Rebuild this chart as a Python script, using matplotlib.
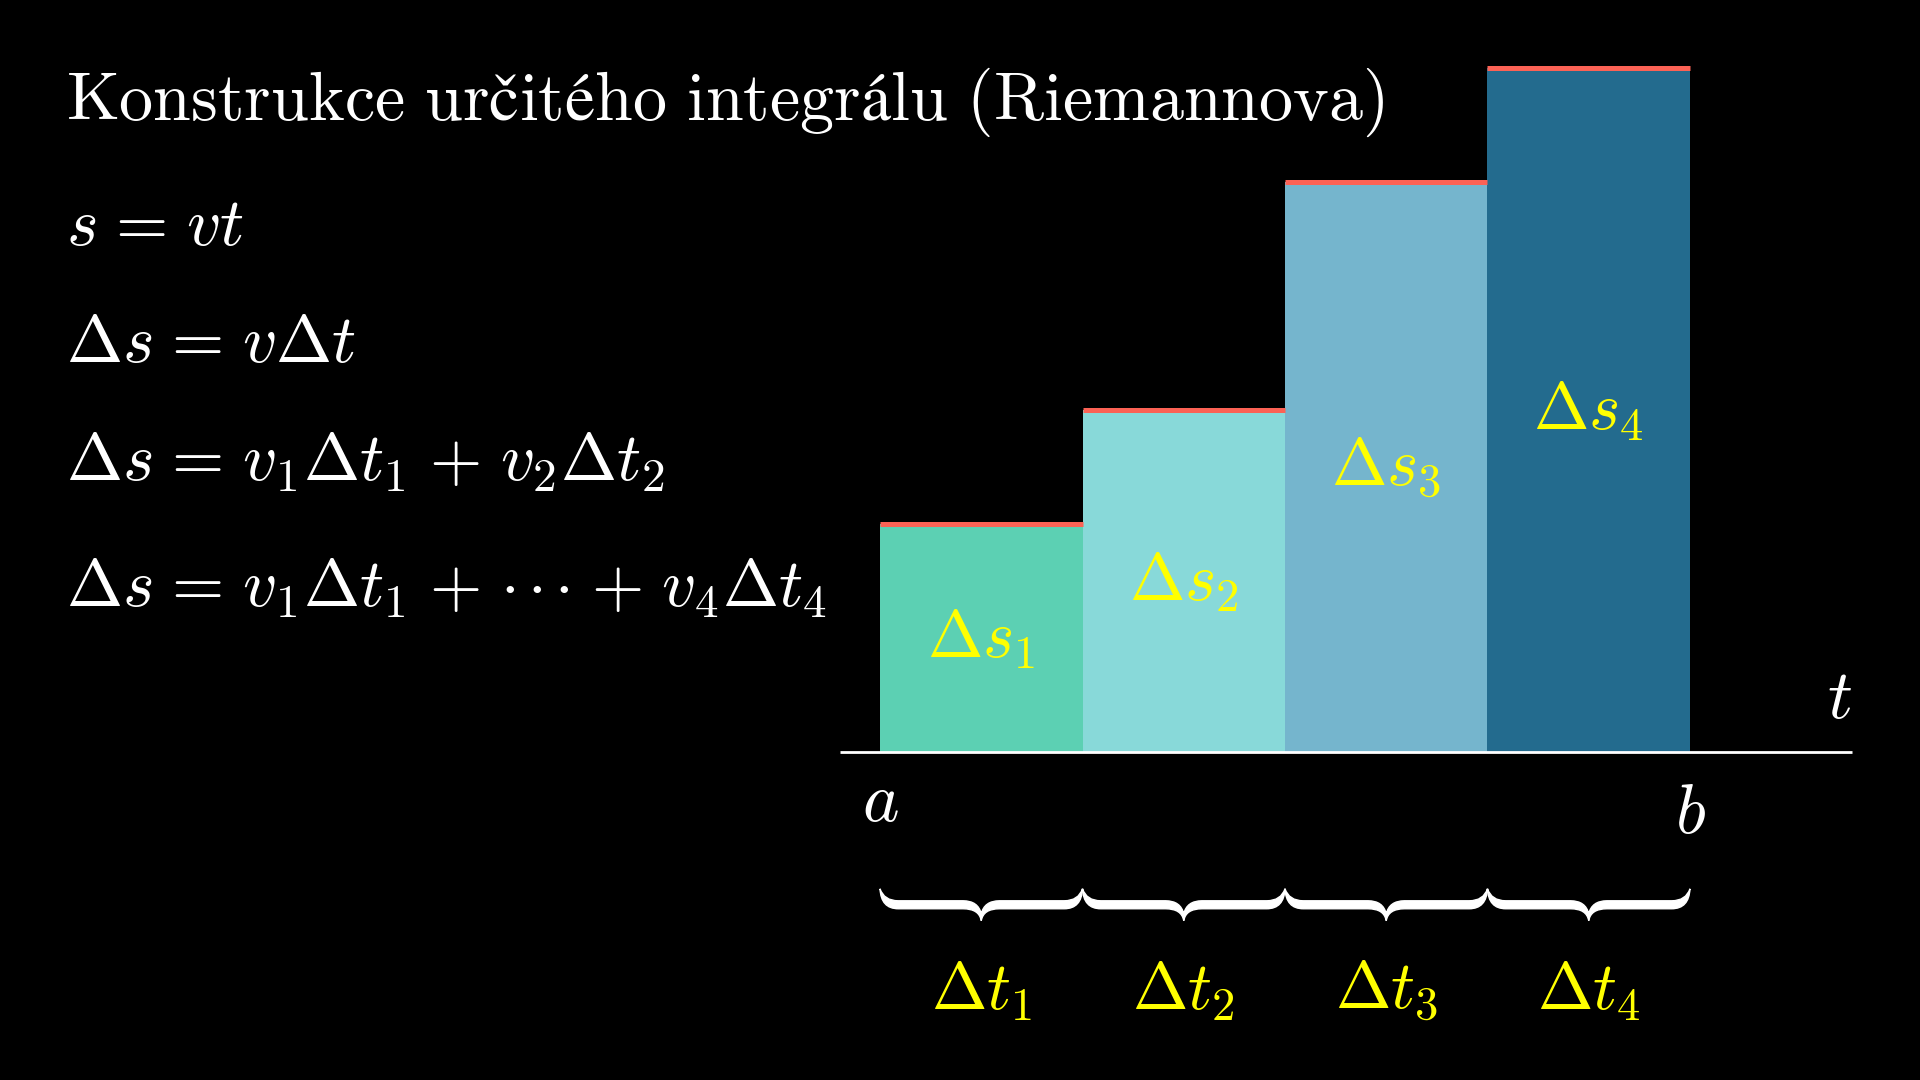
import matplotlib
matplotlib.use("Agg")
import matplotlib.pyplot as plt
from matplotlib.path import Path
from matplotlib.patches import PathPatch

plt.rcParams['mathtext.fontset'] = 'cm'
plt.rcParams['font.family'] = ['DejaVu Serif']

# ---- data ----
t_edges = [0, 1, 2, 3]          # left edges of the subintervals (a = 0, b = 4)
dt = [1, 1, 1, 1]               # widths Δt_i
v = [2, 3, 5, 6]                # heights v_i
bar_colors = ['#5CD0B3', '#88D9D9', '#75B5CD', '#236B8E']
bar_labels = [r'$\Delta s_1$', r'$\Delta s_2$', r'$\Delta s_3$', r'$\Delta s_4$']
brace_labels = [r'$\Delta t_1$', r'$\Delta t_2$', r'$\Delta t_3$', r'$\Delta t_4$']
title = r'$\mathrm{Konstrukce\ určitého\ integrálu\ (Riemannova)}$'
S = r'\hspace{0.11}'
formulas = [r'$s' + S + '=' + S + 'vt$',
            r'$\Delta s' + S + '=' + S + r'v\Delta t$',
            r'$\Delta s' + S + '=' + S + r'v_1\Delta t_1' + S + '+' + S + r'v_2\Delta t_2$',
            r'$\Delta s' + S + '=' + S + r'v_1\Delta t_1' + S + '+' + S
            + r'{\cdot}\hspace{0.14}{\cdot}\hspace{0.14}{\cdot}' + S + '+' + S + r'v_4\Delta t_4$']

RED = '#FC6255'
YELLOW = '#FFFF00'

fig = plt.figure(figsize=(19.2, 10.8), dpi=100, facecolor='black')
ax = fig.add_axes([0, 0, 1, 1])
ax.set_facecolor('black')
ax.set_xlim(-4.346, 5.136)
ax.set_ylim(-2.877, 6.596)
ax.axis('off')

a = t_edges[0]
b = t_edges[-1] + dt[-1]

# bars
ax.bar(t_edges, v, width=dt, align='edge', color=bar_colors, edgecolor='none', zorder=2)
# red tops
for x0, w, h in zip(t_edges, dt, v):
    ax.plot([x0, x0 + w], [h, h], color=RED, lw=3.6, solid_capstyle='butt', zorder=3)

# time axis
ax.plot([a - 0.2, b + 0.8], [0, 0], color='white', lw=2.0, zorder=4, solid_capstyle='butt')
ax.text(a, -0.44, r'$a$', color='white', fontsize=50, ha='center', va='center')
ax.text(b, -0.54, r'$b$', color='white', fontsize=50, ha='center', va='center')
ax.text(b + 0.74, 0.47, r'$t$', color='white', fontsize=50, ha='center', va='center')

# bar labels
for x0, w, h, lab in zip(t_edges, dt, v, bar_labels):
    ax.text(x0 + w / 2, h / 2 - 0.17, lab, color=YELLOW, fontsize=48,
            ha='center', va='baseline', zorder=5)

# braces
yt, yft, yfb, ytip, yin = -1.20, -1.305, -1.375, -1.48, -1.42
e = 0.09
for x0, w, lab in zip(t_edges, dt, brace_labels):
    x1 = x0 + w
    xm = x0 + w / 2
    verts = [
        (x0, yt),
        (x0 + 0.005, yfb), (x0 + e, yfb),
        (xm - e, yfb),
        (xm - 0.01, yfb), (xm, ytip),
        (xm + 0.01, yfb), (xm + e, yfb),
        (x1 - e, yfb),
        (x1 - 0.005, yfb), (x1, yt),
        (x1 - 0.02, yft), (x1 - e, yft),
        (xm + e, yft),
        (xm + 0.015, yft), (xm, yin),
        (xm - 0.015, yft), (xm - e, yft),
        (x0 + e, yft),
        (x0 + 0.02, yft), (x0, yt),
        (x0, yt),
    ]
    codes = [Path.MOVETO,
             Path.CURVE3, Path.CURVE3,
             Path.LINETO,
             Path.CURVE3, Path.CURVE3,
             Path.CURVE3, Path.CURVE3,
             Path.LINETO,
             Path.CURVE3, Path.CURVE3,
             Path.CURVE3, Path.CURVE3,
             Path.LINETO,
             Path.CURVE3, Path.CURVE3,
             Path.CURVE3, Path.CURVE3,
             Path.LINETO,
             Path.CURVE3, Path.CURVE3,
             Path.CLOSEPOLY]
    ax.add_patch(PathPatch(Path(verts, codes), facecolor='white', edgecolor='white', lw=1.0, zorder=4))
    ax.text(xm, -2.26, lab, color=YELLOW, fontsize=48, ha='center', va='baseline')

# left-hand text
fig.text(66 / 1920, 1 - 120 / 1080, title, color='white', fontsize=49, ha='left', va='baseline')
baselines = [245, 362, 481, 607]
for yb, f in zip(baselines, formulas):
    fig.text(66 / 1920, 1 - yb / 1080, f, color='white', fontsize=48.5, ha='left', va='baseline')

fig.savefig('out.png', dpi=100, facecolor='black')
